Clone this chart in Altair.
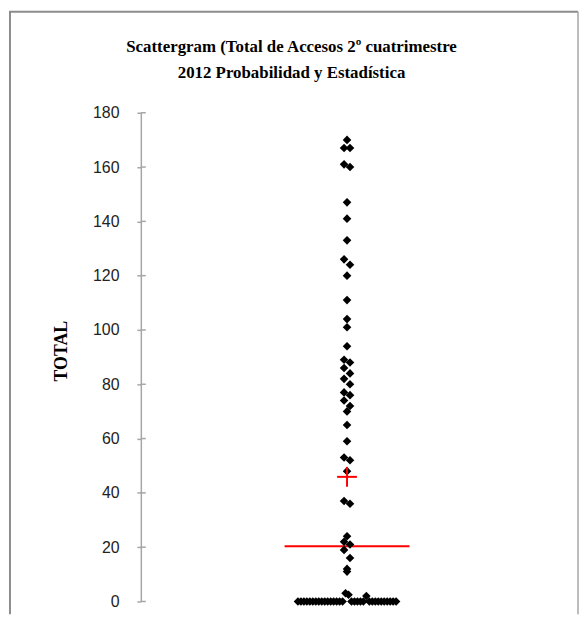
import altair as alt
import pandas as pd

# ---- data ----
title_lines = ["Scattergram (Total de Accesos 2º cuatrimestre", "2012 Probabilidad y Estadística"]
y_label = "TOTAL"
y_ticks = [0, 20, 40, 60, 80, 100, 120, 140, 160, 180]

values_high = [170, 167, 167, 161, 160, 147, 141, 133, 126, 124, 120, 111, 104, 101,
               94, 89, 88, 86, 84, 82, 80, 77, 76, 74, 72, 70, 65, 59, 53, 52, 48,
               37, 36, 24, 22, 21, 19, 16, 12, 11]
values_low = [0, 0, 0, 0, 0, 0, 0, 0, 0, 0, 0, 0, 0, 0, 0, 0, 3, 2.5,
              0, 0, 0, 0, 0, 2, 0, 0, 0, 0, 0, 0, 0, 0, 0, 0]
median_value = 20.3
mean_value = 45.9

W, H = 416, 493
YMAX = 180
px_per_unit = H / YMAX

# ---- simple dot-plot layout: points falling in the same 4-unit bin are spread sideways ----
groups = {}
for v in values_high + values_low:
    groups.setdefault(int(v // 4), []).append(v)
rows = []
for key, vs in groups.items():
    n = len(vs)
    step = 6.0 if n == 2 else 3.0
    for i, v in enumerate(vs):
        rows.append({"kind": "pt", "value": v, "v2": v, "offset": (i - (n - 1) / 2) * step,
                     "offset2": 0.0})
df = pd.DataFrame(rows)

arm = 10 / px_per_unit
extra = pd.DataFrame([
    {"kind": "median", "value": median_value, "v2": median_value, "offset": -63.0, "offset2": 63.0},
    {"kind": "mean", "value": mean_value, "v2": mean_value, "offset": -10.0, "offset2": 10.0},
    {"kind": "mean", "value": mean_value - arm, "v2": mean_value + arm, "offset": 0.0, "offset2": 0.0},
] + [{"kind": "tick", "value": t, "v2": t, "offset": 0.0, "offset2": 0.0} for t in y_ticks]
  + [{"kind": "frame", "value": 0, "v2": 0, "offset": 0.0, "offset2": 0.0}])
data = pd.concat([df, extra], ignore_index=True)

xscale = alt.Scale(domain=[-W / 2, W / 2])
yscale = alt.Scale(domain=[0, YMAX], nice=False, zero=True)

base = alt.Chart(data).encode(
    x=alt.X("offset:Q", scale=xscale, axis=None),
    y=alt.Y("value:Q", scale=yscale, title=y_label,
            axis=alt.Axis(values=y_ticks, grid=False, domainColor="#a6a6a6", domainWidth=1.5,
                          tickColor="#a6a6a6", tickSize=4, tickWidth=1.5, labelPadding=18,
                          labelFont="Liberation Sans", labelFontSize=16, labelColor="#222222",
                          titleFont="Liberation Serif", titleFontSize=18, titleFontWeight="bold",
                          titleColor="black", titleAngle=270, titleX=-79.5, titleY=240,
                          titleAlign="center", titleBaseline="middle")),
)

points = base.transform_filter("datum.kind == 'pt'").mark_point(
    shape="diamond", filled=True, size=75, color="black", opacity=1)

ticks_in = base.transform_filter("datum.kind == 'tick'").mark_rule(
    color="#a6a6a6", strokeWidth=1.5).encode(x=alt.value(0), x2=alt.value(5))

median_rule = base.transform_filter("datum.kind == 'median'").mark_rule(
    color="#ff0000", strokeWidth=2).encode(x2="offset2:Q")

mean_mark = base.transform_filter("datum.kind == 'mean'").mark_rule(
    color="#ff0000", strokeWidth=2).encode(x2="offset2:Q", y2="v2:Q")

frame = base.transform_filter("datum.kind == 'frame'")
frame_left = frame.mark_rule(color="#8c8c8c", strokeWidth=2).encode(
    x=alt.value(-132), y=alt.value(-102), y2=alt.value(506))
frame_top = frame.mark_rule(color="#8c8c8c", strokeWidth=2).encode(
    y=alt.value(-102), x=alt.value(-133), x2=alt.value(441))
frame_right = frame.mark_rule(color="#a6a6a6", strokeWidth=1.5).encode(
    x=alt.value(441), y=alt.value(-102), y2=alt.value(506))

title_text = frame.mark_text(
    text=title_lines, font="Liberation Serif", fontSize=17, fontWeight="bold",
    color="black", align="center", baseline="alphabetic", lineHeight=26
).encode(x=alt.value(152), y=alt.value(-61))

chart = alt.layer(
    frame_left, frame_top, frame_right, title_text, ticks_in, median_rule, points, mean_mark
).properties(
    width=W, height=H,
).configure(padding=0).configure_view(strokeWidth=0)

chart.save("out.html", embed_options={"renderer": "svg", "actions": False})
